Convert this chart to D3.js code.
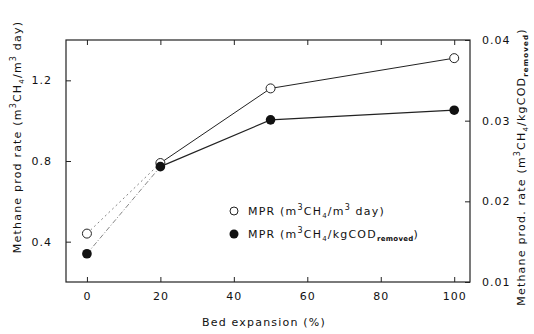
<!DOCTYPE html>
<html lang="en">
<head>
    <meta charset="UTF-8">
    <title>Methane production rate vs bed expansion</title>
    <script src="https://d3js.org/d3.v7.min.js"></script>
    <style>
        body { margin: 0; background: #fff; }
        text {
            font-family: 'DejaVu Sans', sans-serif;
            fill: #111;
        }
        .tick-label { font-size: 11px; letter-spacing: 1px; }
        .title { font-size: 11px; letter-spacing: 1.2px; }
    </style>
</head>
<body>
    <svg id="chart"></svg>

    <script>
        // Data
        const bedExpansion = [0, 20, 50, 100];
        const mprVolume = [0.44, 0.79, 1.16, 1.31];        // m3CH4/m3 day (left axis)
        const mprCod = [0.0135, 0.0243, 0.0301, 0.0313];   // m3CH4/kgCOD removed (right axis)
        const xTicks = [0, 20, 40, 60, 80, 100];
        const leftTicks = [0.4, 0.8, 1.2];
        const rightTicks = [0.01, 0.02, 0.03, 0.04];

        const width = 534, height = 334;
        const frame = { left: 66, right: 470, top: 40, bottom: 282 };

        const svg = d3.select("#chart")
            .attr("width", width)
            .attr("height", height);

        const x = d3.scaleLinear().domain([-5.7, 104.3]).range([frame.left, frame.right]);
        const yL = d3.scaleLinear().domain([0.2, 1.4]).range([frame.bottom, frame.top]);
        const yR = d3.scaleLinear().domain([0.01, 0.04]).range([frame.bottom, frame.top]);

        // Frame
        svg.append("rect")
            .attr("x", frame.left).attr("y", frame.top)
            .attr("width", frame.right - frame.left)
            .attr("height", frame.bottom - frame.top)
            .attr("fill", "none").attr("stroke", "#222").attr("stroke-width", 1.2);

        // Axes with inward ticks
        const tick = 5;
        svg.append("g").attr("transform", `translate(0,${frame.bottom})`)
            .call(d3.axisBottom(x).tickValues(xTicks).tickSizeInner(-tick).tickSizeOuter(0).tickPadding(10))
            .call(g => g.select(".domain").remove());
        svg.append("g").attr("transform", `translate(0,${frame.top})`)
            .call(d3.axisTop(x).tickValues(xTicks).tickSizeInner(-tick).tickSizeOuter(0).tickFormat(""))
            .call(g => g.select(".domain").remove());
        svg.append("g").attr("transform", `translate(${frame.left},0)`)
            .call(d3.axisLeft(yL).tickValues(leftTicks).tickSizeInner(-tick).tickSizeOuter(0).tickPadding(14).tickFormat(d3.format(".1f")))
            .call(g => g.select(".domain").remove());
        svg.append("g").attr("transform", `translate(${frame.right},0)`)
            .call(d3.axisRight(yR).tickValues(rightTicks).tickSizeInner(-tick).tickSizeOuter(0).tickPadding(12).tickFormat(d3.format(".2f")))
            .call(g => g.select(".domain").remove());

        svg.selectAll(".tick line").attr("stroke", "#222");
        svg.selectAll(".tick text").attr("class", "tick-label").attr("font-size", null).attr("font-family", null);

        // Lines: first segment dashed, the rest solid
        const pts1 = bedExpansion.map((b, i) => [x(b), yL(mprVolume[i])]);
        const pts2 = bedExpansion.map((b, i) => [x(b), yR(mprCod[i])]);
        const line = d3.line();

        svg.append("path").attr("d", line(pts1.slice(0, 2)))
            .attr("fill", "none").attr("stroke", "#666").attr("stroke-width", 0.8).attr("stroke-dasharray", "2,3");
        svg.append("path").attr("d", line(pts2.slice(0, 2)))
            .attr("fill", "none").attr("stroke", "#666").attr("stroke-width", 0.8).attr("stroke-dasharray", "5,2,1,2");
        svg.append("path").attr("d", line(pts1.slice(1)))
            .attr("fill", "none").attr("stroke", "#222").attr("stroke-width", 1);
        svg.append("path").attr("d", line(pts2.slice(1)))
            .attr("fill", "none").attr("stroke", "#222").attr("stroke-width", 1.2);

        // Markers
        svg.append("g").selectAll("circle").data(pts1).join("circle")
            .attr("cx", d => d[0]).attr("cy", d => d[1]).attr("r", 4.5)
            .attr("fill", "#fff").attr("stroke", "#222").attr("stroke-width", 1);
        svg.append("g").selectAll("circle").data(pts2).join("circle")
            .attr("cx", d => d[0]).attr("cy", d => d[1]).attr("r", 4.8)
            .attr("fill", "#111");

        // Legend
        const legend = svg.append("g").attr("transform", "translate(234,211)");
        legend.append("circle").attr("r", 4).attr("fill", "#fff").attr("stroke", "#222");
        legend.append("circle").attr("cy", 23).attr("r", 4.5).attr("fill", "#111");
        const l1 = legend.append("text").attr("class", "title").attr("x", 14).attr("y", 4);
        l1.append("tspan").text("MPR (m");
        l1.append("tspan").attr("dy", -5).attr("font-size", 8).text("3");
        l1.append("tspan").attr("dy", 5).text("CH");
        l1.append("tspan").attr("dy", 3).attr("font-size", 7).text("4");
        l1.append("tspan").attr("dy", -3).text("/m");
        l1.append("tspan").attr("dy", -5).attr("font-size", 8).text("3");
        l1.append("tspan").attr("dy", 5).text(" day)");
        const l2 = legend.append("text").attr("class", "title").attr("x", 14).attr("y", 27);
        l2.append("tspan").text("MPR (m");
        l2.append("tspan").attr("dy", -5).attr("font-size", 8).text("3");
        l2.append("tspan").attr("dy", 5).text("CH");
        l2.append("tspan").attr("dy", 3).attr("font-size", 7).text("4");
        l2.append("tspan").attr("dy", -3).text("/kgCOD");
        l2.append("tspan").attr("dy", 3).attr("font-size", 7).attr("font-weight", "bold").attr("letter-spacing", 0.3).text("removed");
        l2.append("tspan").attr("dy", -3).text(")");

        // Axis titles
        svg.append("text").attr("class", "title")
            .attr("x", (frame.left + frame.right) / 2 - 4).attr("y", 326)
            .attr("text-anchor", "middle").text("Bed expansion (%)");

        const lt = svg.append("text").attr("class", "title")
            .attr("transform", "translate(21,137) rotate(-90)")
            .attr("text-anchor", "middle");
        lt.append("tspan").text("Methane prod rate (m");
        lt.append("tspan").attr("dy", -5).attr("font-size", 8).text("3");
        lt.append("tspan").attr("dy", 5).text("CH");
        lt.append("tspan").attr("dy", 3).attr("font-size", 7).text("4");
        lt.append("tspan").attr("dy", -3).text("/m");
        lt.append("tspan").attr("dy", -5).attr("font-size", 8).text("3");
        lt.append("tspan").attr("dy", 5).text(" day)");

        const rt = svg.append("text").attr("class", "title")
            .attr("transform", "translate(525,167) rotate(-90)")
            .attr("text-anchor", "middle");
        rt.append("tspan").text("Methane prod. rate (m");
        rt.append("tspan").attr("dy", -5).attr("font-size", 8).text("3");
        rt.append("tspan").attr("dy", 5).text("CH");
        rt.append("tspan").attr("dy", 3).attr("font-size", 7).text("4");
        rt.append("tspan").attr("dy", -3).text("/kgCOD");
        rt.append("tspan").attr("dy", 3).attr("font-size", 7).attr("font-weight", "bold").text("removed");
        rt.append("tspan").attr("dy", -3).text(")");
    </script>
</body>
</html>
